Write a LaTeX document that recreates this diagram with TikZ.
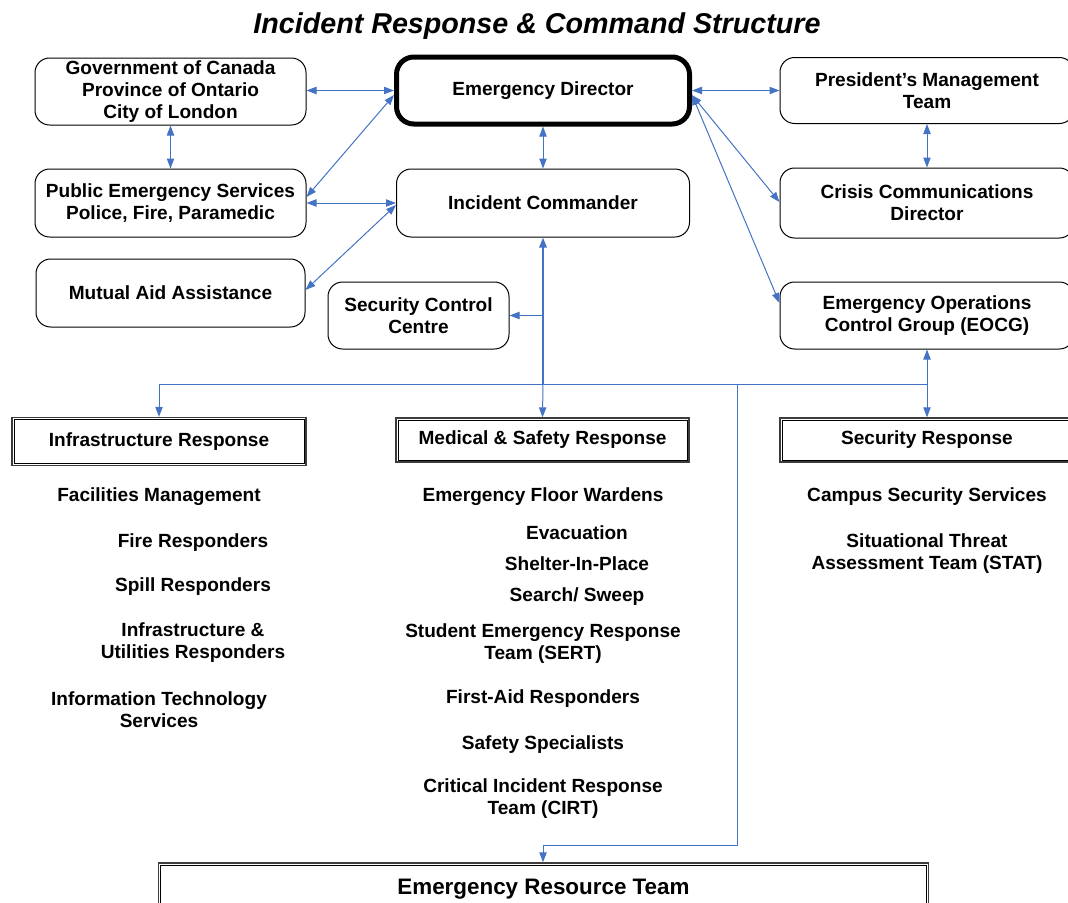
\documentclass[tikz,border=0pt]{standalone}
\usepackage{fontspec}
\setmainfont{Liberation Sans}
\usetikzlibrary{arrows.meta,calc}
\definecolor{lnblue}{RGB}{68,114,196}
\definecolor{edgegray}{RGB}{60,60,60}
\begin{document}
\begin{tikzpicture}[x=0.75pt,y=-0.75pt,
  font=\fontsize{14.3}{16.5}\selectfont\bfseries,
  rbox/.style={draw, rounded corners=11pt, line width=0.75pt, align=center, inner sep=0pt},
  edbox/.style={draw, rounded corners=13pt, line width=3.75pt, align=center, inner sep=0pt},
  dbox/.style={draw=edgegray, line width=1pt, align=center, inner sep=0pt},
  inner/.style={draw, line width=0.75pt},
  txt/.style={align=center, inner sep=0pt},
  tip/.tip={Triangle[length=7.5pt,width=5.5pt]},
  ln/.style={draw=lnblue, line width=0.75pt},
  arr/.style={ln, -tip},
  bi/.style={ln, tip-tip}]
\useasboundingbox (0,0) rectangle (1068,903);
\node[txt, font=\fontsize{21.5}{25}\selectfont\bfseries\itshape] (title) at (537,26) {Incident Response \& Command Structure};
% boxes
\node[rbox, minimum width=203.25pt, minimum height=50.25pt] (gov) at (170.5,91.5) {Government of Canada\\Province of Ontario\\City of London};
\node[rbox, minimum width=203.25pt, minimum height=51pt] (pes) at (170.5,203) {Public Emergency Services\\Police, Fire, Paramedic};
\node[rbox, minimum width=201.75pt, minimum height=51pt] (mut) at (170.5,293) {Mutual Aid Assistance};
\node[rbox, minimum width=135.75pt, minimum height=50.25pt] (scc) at (418.5,315.5) {Security Control\\Centre};
\node[edbox, minimum width=219.75pt, minimum height=50.25pt] (ed) at (543,90.5) {Emergency Director};
\node[rbox, minimum width=219.75pt, minimum height=51pt] (ic) at (543,203) {Incident Commander};
\node[rbox, minimum width=220.5pt, minimum height=49.5pt] (pmt) at (927,90.5) {President’s Management\\Team};
\node[rbox, minimum width=220.5pt, minimum height=52.5pt] (ccd) at (927,203) {Crisis Communications\\Director};
\node[rbox, minimum width=220.5pt, minimum height=50.25pt] (eocg) at (927,315.5) {Emergency Operations\\Control Group (EOCG)};
\node[dbox, minimum width=220.5pt, minimum height=36pt] (infra) at (159,441.5) {Infrastructure Response};
\node[dbox, minimum width=219.75pt, minimum height=33pt] (med) at (542.5,440) {Medical \& Safety Response};
\node[dbox, minimum width=220.5pt, minimum height=33pt] (secr) at (927,440) {Security Response};
\node[dbox, minimum width=577.5pt, minimum height=36pt, text depth=0pt] (ert) at (543.5,887) {\fontsize{16.8}{19}\selectfont Emergency Resource Team};
\foreach \b in {infra,med,secr,ert}
  \draw[inner] ([shift={(2pt,-2pt)}]\b.north west) rectangle ([shift={(-2pt,2pt)}]\b.south east);
% lists
\node[txt] (l1) at (159,496.5) {Facilities Management};
\node[txt] (l2) at (193,542.5) {Fire Responders};
\node[txt] (l3) at (193,586.5) {Spill Responders};
\node[txt] (l4) at (193,643) {Infrastructure \&\\Utilities Responders};
\node[txt] (l5) at (159,709.5) {Information Technology\\Services};
\node[txt] (m1) at (543,496.5) {Emergency Floor Wardens};
\node[txt] (m2) at (577,532.5) {Evacuation};
\node[txt] (m3) at (577,563.5) {Shelter-In-Place};
\node[txt] (m4) at (577,596.5) {Search/ Sweep};
\node[txt] (m5) at (543,643.5) {Student Emergency Response\\Team (SERT)};
\node[txt] (m6) at (543,698.5) {First-Aid Responders};
\node[txt] (m7) at (543,744.5) {Safety Specialists};
\node[txt] (m8) at (543,799) {Critical Incident Response\\Team (CIRT)};
\node[txt] (r1) at (927,496.5) {Campus Security Services};
\node[txt] (r2) at (927,553.5) {Situational Threat\\Assessment Team (STAT)};
% connectors
\draw[bi] (gov.east |- ed.west) -- (ed.west);
\draw[bi] (gov) -- (pes);
\draw[bi] ([yshift=-3.4pt]ed.west) -- ([yshift=4.5pt]pes.east);
\draw[bi] (pes) -- (ic);
\draw[bi] ([yshift=-1.5pt]ic.west) -- ([yshift=2.25pt]mut.east);
\draw[bi] (ed) -- (ic);
\draw[bi] (ed) -- (pmt);
\draw[bi] ([yshift=-3.4pt]ed.east) -- ([yshift=0.75pt]ccd.west);
\draw[bi] ([yshift=-3.4pt]ed.east) -- ([yshift=9.4pt]eocg.west);
\draw[bi] (pmt) -- (ccd);
\draw[bi] (eocg) -- (secr);
\coordinate (bm) at (543,384);
\coordinate (bj) at (737,384);
\coordinate (bk) at (737,845);
\coordinate (bn) at (543,845);
\draw[ln] (infra.north |- bm) -- (secr.north |- bm);
\draw[arr] (infra.north |- bm) -- (infra.north);
\draw[arr] (bm) -- (med.north);
\draw[ln, line width=1.5pt, -tip] (bm) -- (ic.south);
\draw[arr] (ic.south |- scc.east) -- (scc.east);
\draw[arr] (bj) -- (bk) -- (bn) -- (bn |- ert.north);
\end{tikzpicture}
\end{document}
